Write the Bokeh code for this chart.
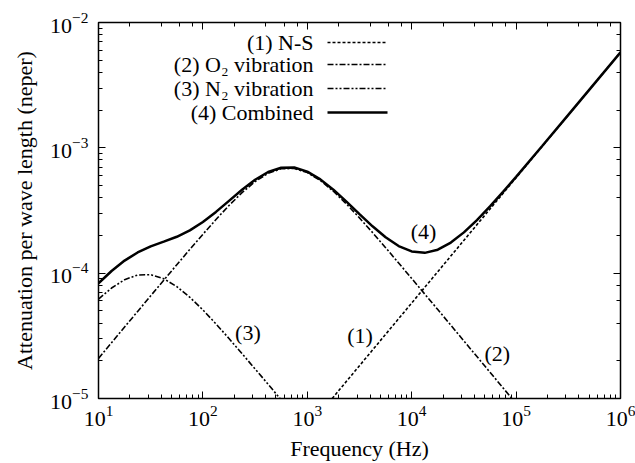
from bokeh.plotting import figure
from bokeh.models import LogAxis, Label, Arrow, CustomJSTickFormatter, Range1d
from bokeh.embed import file_html
from bokeh.resources import INLINE

# ---- data ----
freq = [10, 13.34, 17.78, 23.71, 31.62, 42.17, 56.23, 74.99,
        100, 133.4, 177.8, 237.1, 316.2, 421.7, 562.3, 749.9,
        1000, 1334, 1778, 2371, 3162, 4217, 5623, 7499,
        1e4, 1.334e4, 1.778e4, 2.371e4, 3.162e4, 4.217e4, 5.623e4, 7.499e4,
        1e5, 1.778e5, 3.162e5, 5.623e5, 1e6]

o2_freq = freq[:33]
o2_vals = [2.09e-5, 2.79e-5, 3.72e-5, 4.95e-5, 6.60e-5, 8.78e-5, 1.167e-4, 1.548e-4,
           2.044e-4, 2.680e-4, 3.466e-4, 4.391e-4, 5.378e-4, 6.261e-4, 6.813e-4, 6.844e-4,
           6.344e-4, 5.485e-4, 4.502e-4, 3.564e-4, 2.761e-4, 2.108e-4, 1.598e-4, 1.205e-4,
           9.07e-5, 6.81e-5, 5.12e-5, 3.84e-5, 2.88e-5, 2.16e-5, 1.62e-5, 1.215e-5,
           9.11e-6]

n2_freq = freq[:15]
n2_vals = [6.21e-5, 7.61e-5, 8.87e-5, 9.67e-5, 9.73e-5, 9.03e-5, 7.82e-5, 6.42e-5,
           5.09e-5, 3.94e-5, 3.01e-5, 2.28e-5, 1.72e-5, 1.30e-5, 9.74e-6]

ns_freq = [1730, 1e4, 1e5, 1e6]
ns_vals = [1.0e-5, 5.78e-5, 5.78e-4, 5.78e-3]

comb_vals = [8.31e-5, 1.041e-4, 1.260e-4, 1.463e-4, 1.635e-4, 1.783e-4, 1.952e-4, 2.194e-4,
             2.559e-4, 3.082e-4, 3.777e-4, 4.633e-4, 5.568e-4, 6.415e-4, 6.943e-4, 6.96e-4,
             6.457e-4, 5.603e-4, 4.636e-4, 3.724e-4, 2.961e-4, 2.365e-4, 1.933e-4, 1.645e-4,
             1.490e-4, 1.452e-4, 1.540e-4, 1.754e-4, 2.116e-4, 2.653e-4, 3.412e-4, 4.456e-4,
             5.871e-4, 1.033e-3, 1.831e-3, 3.252e-3, 5.78e-3]

legend_labels = ["(1) N-S", "(2) O\u2082 vibration", "(3) N\u2082 vibration", "(4) Combined"]
curve_tags = ["(1)", "(2)", "(3)", "(4)"]
tag_x = [3.2e3, 6.6e4, 2.7e2, 1.3e4]
tag_y = [3.2e-5, 2.3e-5, 3.36e-5, 2.15e-4]
x_title = "Frequency (Hz)"
y_title = "Attenuation per wave length (neper)"

FONT = "Liberation Serif"
dashes = ["3 2", "6 2 2 2", "6 2 2 2 2 2", "solid"]
widths = [1.6, 1.6, 1.6, 2.5]

p = figure(width=635, height=463, x_axis_type="log", y_axis_type="log",
           x_range=Range1d(10, 1e6), y_range=Range1d(1e-5, 1e-2),
           output_backend="svg", toolbar_location=None,
           min_border_left=98, min_border_right=15, min_border_top=22, min_border_bottom=65)
p.xgrid.visible = False
p.ygrid.visible = False
p.outline_line_color = "black"
p.outline_line_width = 1.5
p.background_fill_color = "white"
p.border_fill_color = "white"

p.line(ns_freq, ns_vals, line_color="black", line_width=widths[0], line_dash=dashes[0])
p.line(o2_freq, o2_vals, line_color="black", line_width=widths[1], line_dash=dashes[1])
p.line(n2_freq, n2_vals, line_color="black", line_width=widths[2], line_dash=dashes[2])
p.line(freq, comb_vals, line_color="black", line_width=widths[3])

for ax in (p.xaxis[0], p.yaxis[0]):
    ax.axis_line_color = "black"
    ax.major_tick_in = 7
    ax.major_tick_out = 0
    ax.minor_tick_in = 4
    ax.minor_tick_out = 0
    ax.major_label_text_font = FONT
    ax.major_label_text_font_size = "22px"
    ax.major_label_text_color = "black"
    ax.axis_label_text_font = FONT
    ax.axis_label_text_font_size = "22px"
    ax.axis_label_text_font_style = "normal"
    ax.axis_label_text_color = "black"

p.xaxis.axis_label = x_title
p.yaxis.axis_label = y_title
p.xaxis.major_label_standoff = 7
p.yaxis.major_label_standoff = 10
p.xaxis.axis_label_standoff = 7
p.yaxis.axis_label_standoff = 10

blank = CustomJSTickFormatter(code="return ''")
top = LogAxis(formatter=blank, major_tick_in=7, major_tick_out=0, minor_tick_in=4,
              minor_tick_out=0, major_label_standoff=0, axis_line_color="black")
right = LogAxis(formatter=blank, major_tick_in=7, major_tick_out=0, minor_tick_in=4,
                minor_tick_out=0, major_label_standoff=0, axis_line_color="black")
p.add_layout(top, "above")
p.add_layout(right, "right")

# screen units here are measured from the frame's bottom-left corner
FL, FB = 98, 398

# legend (text right-aligned, sample line to the right)
row_y = [42, 64, 88, 112]
for lab, dsh, w, yy in zip(legend_labels, dashes, widths, row_y):
    p.add_layout(Label(x=313 - FL, y=FB - yy, x_units="screen", y_units="screen", text=lab,
                       text_align="right", text_baseline="middle", text_font=FONT,
                       text_font_size="22px", text_color="black"))
    p.add_layout(Arrow(end=None, x_start=327 - FL, y_start=FB - yy, x_end=387 - FL,
                       y_end=FB - yy, start_units="screen", end_units="screen",
                       line_color="black", line_width=w, line_dash=dsh))

for t, xx, yy in zip(curve_tags, tag_x, tag_y):
    p.add_layout(Label(x=xx, y=yy, text=t, text_align="center", text_baseline="middle",
                       text_font=FONT, text_font_size="22px", text_color="black"))

open("out.html", "w").write(file_html(p, INLINE))
